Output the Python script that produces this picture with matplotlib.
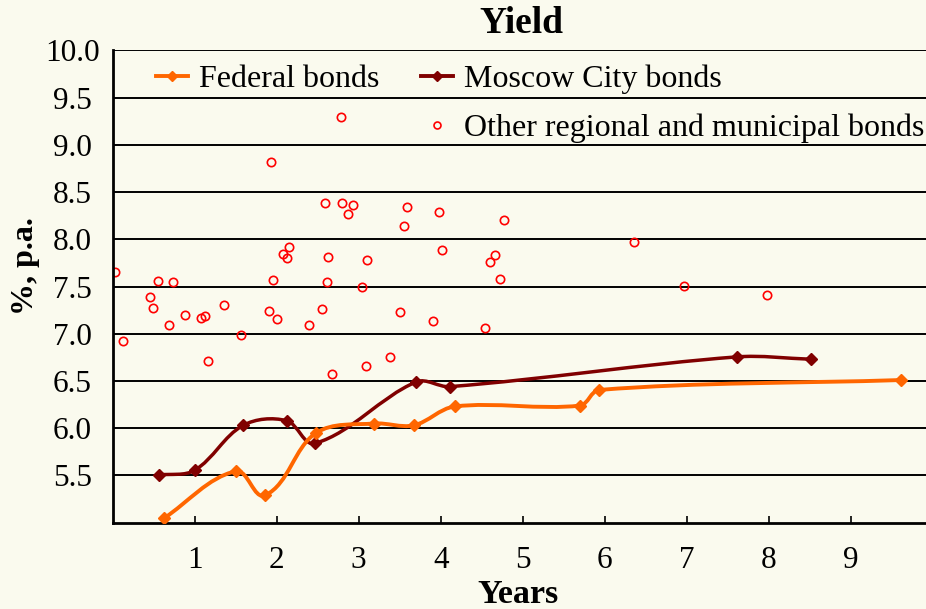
import matplotlib
matplotlib.use("Agg")
import numpy as np
import matplotlib.pyplot as plt
from matplotlib.path import Path
from matplotlib.patches import PathPatch
from matplotlib.lines import Line2D

# Federal bonds: years to maturity, yield %
fed_x = [0.63, 1.50, 1.86, 2.48, 3.19, 3.67, 4.17, 5.70, 5.93, 9.61]
fed_y = [5.05, 5.545, 5.29, 5.95, 6.05, 6.03, 6.23, 6.24, 6.405, 6.51]

# Moscow City bonds
mos_x = [0.57, 1.00, 1.59, 2.12, 2.47, 3.70, 4.11, 7.61, 8.52]
mos_y = [5.505, 5.555, 6.03, 6.08, 5.84, 6.49, 6.44, 6.755, 6.73]

# Other regional and municipal bonds
oth_x = [1.93, 2.78, 2.59, 2.80, 2.93, 2.87, 3.59, 3.55, 3.98, 4.77,
         0.03, 0.55, 0.735, 0.46, 0.49, 0.69, 0.88, 1.08, 1.13, 1.36,
         1.57, 0.125, 1.16, 2.15, 2.08, 2.13, 1.96, 1.91, 2.00, 2.39,
         2.55, 2.63, 3.10, 4.02, 4.66, 4.60, 4.72, 2.61, 3.04, 3.50,
         3.91, 4.54, 3.38, 3.09, 2.68, 6.36, 6.97, 7.98]
oth_y = [8.815, 9.29, 8.38, 8.38, 8.36, 8.27, 8.34, 8.14, 8.29, 8.20,
         7.65, 7.56, 7.55, 7.39, 7.27, 7.09, 7.20, 7.17, 7.19, 7.30,
         6.99, 6.92, 6.71, 7.92, 7.84, 7.80, 7.57, 7.24, 7.16, 7.09,
         7.26, 7.81, 7.78, 7.89, 7.83, 7.76, 7.58, 7.55, 7.50, 7.23,
         7.14, 7.06, 6.75, 6.66, 6.57, 7.97, 7.51, 7.41]

y_ticks = [5.5, 6.0, 6.5, 7.0, 7.5, 8.0, 8.5, 9.0, 9.5, 10.0]
x_ticks = [1, 2, 3, 4, 5, 6, 7, 8, 9]

BG = "#FAFAEE"
ORANGE = "#FF6600"
DARK = "#800000"
plt.rcParams["font.family"] = ["Liberation Serif", "DejaVu Serif"]


def smooth_path(ax, xs, ys, s=1 / 3):
    # smoothed line like a spreadsheet chart: Bezier segments through the
    # points, tangents worked out in screen space and scaled by segment length
    to_disp = ax.transData
    P = to_disp.transform(np.column_stack([xs, ys]))
    n = len(P)
    tang = []
    for i in range(n):
        a = P[max(i - 1, 0)]
        b = P[min(i + 1, n - 1)]
        d = b - a
        tang.append(d / np.hypot(*d))
    verts = [P[0]]
    codes = [Path.MOVETO]
    for i in range(n - 1):
        L = np.hypot(*(P[i + 1] - P[i]))
        verts += [P[i] + tang[i] * L * s, P[i + 1] - tang[i + 1] * L * s, P[i + 1]]
        codes += [Path.CURVE4] * 3
    verts = to_disp.inverted().transform(np.array(verts))
    return Path(verts, codes)


fig = plt.figure(figsize=(9.26, 6.09), dpi=100, facecolor=BG)
ax = fig.add_axes([0.1217, 0.1417, 0.8783, 0.7757], facecolor=BG)

ax.set_xlim(0, 9.918)
ax.set_ylim(5.0, 10.0)

for y in y_ticks:
    ax.axhline(y, color="black", lw=1.4, zorder=1)

ax.add_patch(PathPatch(smooth_path(ax, mos_x, mos_y), fill=False, ec=DARK,
                       lw=2.5, zorder=3))
ax.plot(mos_x, mos_y, ls="none", marker="D", ms=6, color=DARK, zorder=4)

ax.add_patch(PathPatch(smooth_path(ax, fed_x, fed_y), fill=False, ec=ORANGE,
                       lw=2.8, zorder=5))
ax.plot(fed_x, fed_y, ls="none", marker="D", ms=6.5, color=ORANGE, zorder=6)

ax.plot(oth_x, oth_y, ls="none", marker="o", ms=6, mfc="none", mec="#FF0000",
        mew=1.2, zorder=2)

for s in ["top", "right"]:
    ax.spines[s].set_visible(False)
for s in ["left", "bottom"]:
    ax.spines[s].set_linewidth(2)
    ax.spines[s].set_color("black")

ax.set_xticks(x_ticks)
ax.set_xticklabels([str(v) for v in x_ticks])
ax.tick_params(axis="x", direction="in", length=5, width=1.2, pad=16.5,
               labelsize=22.5)
ax.set_yticks(y_ticks)
ax.set_yticklabels([f"{v:.1f}" for v in y_ticks])
ax.tick_params(axis="y", length=0, pad=29, labelsize=22.5)
for lab in ax.get_yticklabels():
    lab.set_horizontalalignment("center")

fig.text(0.5632, 0.962, "Yield", ha="center", va="center", fontsize=27,
         fontweight="bold")
fig.text(0.5594, 0.024, "Years", ha="center", va="center", fontsize=24.5,
         fontweight="bold")
fig.text(0.028, 0.5624, "%, p.a.", ha="center", va="center", fontsize=23,
         fontweight="bold", rotation=90)

h_fed = Line2D([], [], color=ORANGE, lw=2.8, marker="D", ms=5)
h_mos = Line2D([], [], color=DARK, lw=2.8, marker="D", ms=5)
h_oth = Line2D([], [], ls="none", marker="o", ms=5, mfc="none", mec="#FF0000", mew=1.2)
h_blank = Line2D([], [], color="none")
ax.legend([h_fed, h_blank, h_mos, h_oth],
          ["Federal bonds", "", "Moscow City bonds",
           "Other regional and municipal bonds"],
          ncol=2, loc="upper left", bbox_to_anchor=(0.0532, 0.969),
          frameon=False, fontsize=23, handlelength=1.0, handletextpad=0.35,
          columnspacing=1.3, labelspacing=0.6, borderpad=0, borderaxespad=0)

fig.savefig("out.png", dpi=100, facecolor=BG)
